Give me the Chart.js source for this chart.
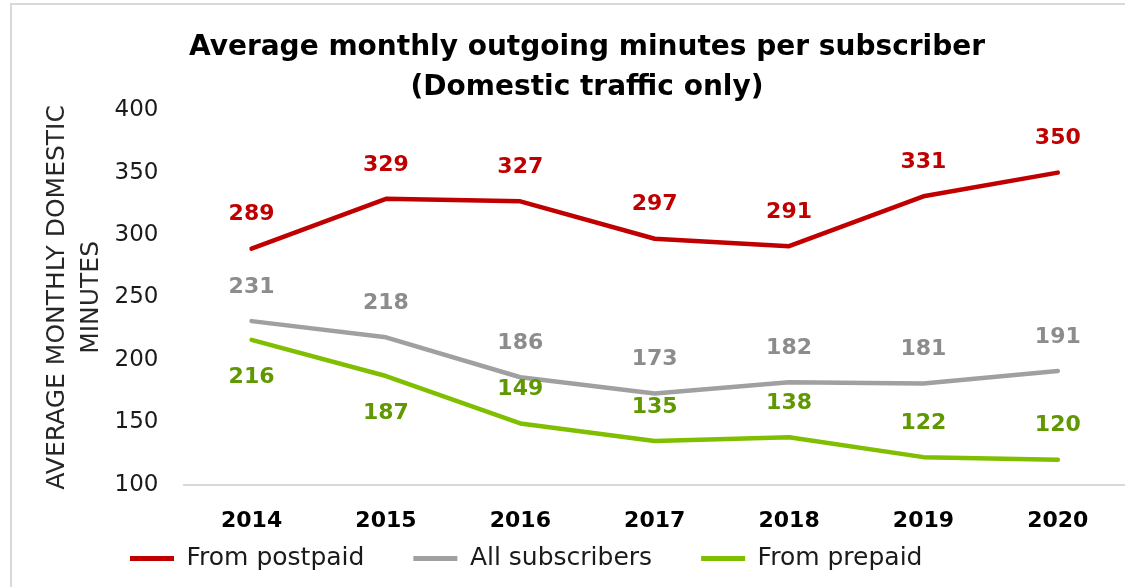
<!DOCTYPE html>
<html>
<head>
<meta charset="utf-8">
<script src="https://cdn.jsdelivr.net/npm/chart.js@4.4.1/dist/chart.umd.min.js"></script>
<style>
  html, body { margin: 0; padding: 0; background: #fff; overflow: hidden; }
  #pagina { position: relative; width: 1125px; height: 587px; overflow: hidden; }
  #marco { position: absolute; left: 10px; top: 3px; width: 1152px; height: 640px; border-left: 2px solid #d9d9d9; border-top: 2px solid #d9d9d9; }
  canvas { display: block; }
</style>
</head>
<body>
<div id="pagina"><div id="marco"><canvas id="grafica"></canvas></div></div>
<script>
// Datos
const anios = ['2014', '2015', '2016', '2017', '2018', '2019', '2020'];
const pospago = [289, 329, 327, 297, 291, 331, 350];
const todos = [231, 218, 186, 173, 182, 181, 191];
const prepago = [216, 187, 149, 135, 138, 122, 120];
const ticksY = [100, 150, 200, 250, 300, 350, 400];
// donde va la etiqueta de cada punto del prepago
const ladosPrepago = ['abajo', 'abajo', 'arriba', 'arriba', 'arriba', 'arriba', 'arriba'];

const FUENTE = '"DejaVu Sans", sans-serif';

// Etiquetas con el valor encima / debajo de cada punto
const etiquetasValores = {
    id: 'etiquetasValores',
    afterDatasetsDraw(chart) {
        const ctx = chart.ctx;
        chart.data.datasets.forEach((ds, i) => {
            const meta = chart.getDatasetMeta(i);
            ctx.save();
            ctx.font = 'bold 22px ' + FUENTE;
            ctx.fillStyle = ds.colorEtiqueta;
            ctx.textAlign = 'center';
            ctx.textBaseline = 'middle';
            meta.data.forEach((pt, j) => {
                const lado = ds.lados ? ds.lados[j] : 'arriba';
                const dy = lado === 'abajo' ? 37 : -34;
                ctx.fillText(String(ds.data[j]), pt.x, pt.y + dy);
            });
            ctx.restore();
        });
    }
};

// La leyenda va pegada a la izquierda, no centrada
const moverLeyenda = {
    id: 'moverLeyenda',
    afterLayout(chart) {
        const ley = chart.legend;
        ley.left = 69;
        ley.top = 492;
    }
};

const ctx = document.getElementById('grafica');
ctx.width = 1150;
ctx.height = 636;

new Chart(ctx, {
    type: 'line',
    data: {
        labels: anios,
        datasets: [
            {
                label: 'From postpaid',
                data: pospago,
                borderColor: '#c00000',
                backgroundColor: '#c00000',
                colorEtiqueta: '#c00000'
            },
            {
                label: 'All subscribers',
                data: todos,
                borderColor: '#a0a0a0',
                backgroundColor: '#a0a0a0',
                colorEtiqueta: '#8c8c8c'
            },
            {
                label: 'From prepaid',
                data: prepago,
                borderColor: '#7fbf00',
                backgroundColor: '#7fbf00',
                colorEtiqueta: '#5f9800',
                lados: ladosPrepago
            }
        ]
    },
    options: {
        responsive: false,
        animation: false,
        layout: { padding: { left: 37, right: 37, top: 0, bottom: 0 } },
        elements: {
            line: { borderWidth: 4.5, tension: 0, borderCapStyle: 'round', borderJoinStyle: 'round', fill: false },
            point: { radius: 0, hoverRadius: 0 }
        },
        scales: {
            x: {
                offset: true,
                grid: { display: false, drawTicks: false },
                border: { display: true, color: '#d9d9d9', width: 2 },
                ticks: { color: '#000', padding: 23, font: { family: FUENTE, size: 22, weight: 'bold' } }
            },
            y: {
                min: 100,
                max: 400,
                afterBuildTicks: (eje) => { eje.ticks = ticksY.map(v => ({ value: v })); },
                grid: { display: false, drawTicks: false },
                border: { display: false },
                ticks: { color: '#1a1a1a', padding: 26, font: { family: FUENTE, size: 23 } },
                title: {
                    display: true,
                    text: ['AVERAGE MONTHLY DOMESTIC', 'MINUTES'],
                    color: '#262626',
                    padding: { top: -8, bottom: -20 },
                    font: { family: FUENTE, size: 25, lineHeight: 1.35 }
                }
            }
        },
        plugins: {
            title: {
                display: true,
                text: ['Average monthly outgoing minutes per subscriber', '(Domestic traffic only)'],
                color: '#000',
                padding: { top: 22, bottom: 2 },
                font: { family: FUENTE, size: 28, weight: 'bold', lineHeight: 1.45 }
            },
            legend: {
                position: 'bottom',
                align: 'start',
                labels: {
                    boxWidth: 44,
                    boxHeight: 5,
                    padding: 49,
                    color: '#1a1a1a',
                    font: { family: FUENTE, size: 25 },
                    generateLabels(chart) {
                        return Chart.defaults.plugins.legend.labels.generateLabels(chart)
                            .map(it => ({ ...it, lineWidth: 0 }));
                    }
                }
            },
            tooltip: { enabled: false }
        }
    },
    plugins: [etiquetasValores, moverLeyenda]
});
</script>
</body>
</html>
